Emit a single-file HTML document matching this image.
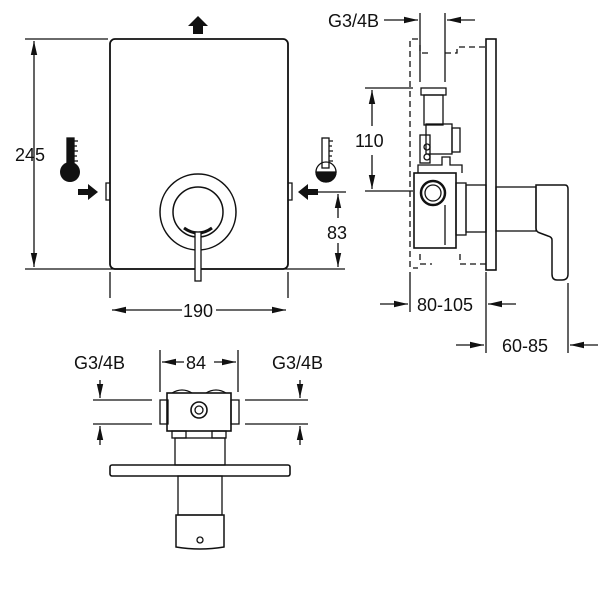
<!DOCTYPE html>
<html><head><style>
html,body{margin:0;padding:0;background:#fff;}
svg{display:block;}
text{font-family:"Liberation Sans",sans-serif;font-size:18px;fill:#111;}
</style></head><body>
<svg width="600" height="600" viewBox="0 0 600 600" xmlns="http://www.w3.org/2000/svg">
<defs>
<marker id="a" viewBox="0 0 10 10" refX="10" refY="5" markerWidth="14" markerHeight="8" orient="auto-start-reverse" markerUnits="userSpaceOnUse" preserveAspectRatio="none"><path d="M0,1 L10,5 L0,9 z" fill="#111"/></marker>
</defs>
<g stroke="#111" stroke-width="1.3" fill="none">
<!-- FRONT VIEW -->
<rect x="110" y="39" width="178" height="230" rx="5" stroke-width="1.8"/>
<line x1="25" y1="39" x2="108" y2="39"/>
<line x1="25" y1="269" x2="345" y2="269"/>
<line x1="34" y1="41" x2="34" y2="267" marker-start="url(#a)" marker-end="url(#a)"/>
<circle cx="198" cy="212" r="38" stroke-width="1.5"/>
<circle cx="198" cy="212" r="25" stroke-width="1.5"/>
<path d="M184,228 Q198,238 212,228" stroke-width="3"/>
<rect x="195" y="232" width="6" height="49" fill="#fff" stroke-width="1.3"/>
<path d="M110,183 h-4 v17 h4 M288,183 h4 v17 h-4"/>
<line x1="110" y1="272" x2="110" y2="298"/><line x1="288" y1="272" x2="288" y2="298"/>
<line x1="112" y1="310" x2="182" y2="310" marker-start="url(#a)"/>
<line x1="216" y1="310" x2="286" y2="310" marker-end="url(#a)"/>
<line x1="318" y1="192" x2="346" y2="192"/>
<line x1="338" y1="194" x2="338" y2="218" marker-start="url(#a)"/>
<line x1="338" y1="243" x2="338" y2="267" marker-end="url(#a)"/>
<!-- thermometers -->
<rect x="67" y="138" width="7" height="30" fill="#111"/>
<path d="M74,141 h4 M74,146 h3 M74,151 h4 M74,156 h3 M74,161 h4"/>
<circle cx="70" cy="172" r="10" fill="#111" stroke="none"/>
<rect x="322" y="138" width="7" height="30" fill="#fff"/>
<path d="M329,141 h4 M329,146 h3 M329,151 h4 M329,156 h3 M329,161 h4"/>
<path d="M316,172 a10,10 0 0 0 20,0 z" fill="#111"/>
<circle cx="326" cy="172" r="10"/>
<!-- SIDE VIEW -->
<rect x="486" y="39" width="10" height="231" stroke-width="1.6"/>
<path d="M418,39 h-8 v229 h8" stroke-dasharray="6,4"/>
<path d="M420,45 v8 h12 M445,53 h12 v-6 h30" stroke-dasharray="6,4"/>
<path d="M420,254 v10 h12 M460,254 v10 h26" stroke-dasharray="6,4"/>
<line x1="420" y1="13" x2="420" y2="82"/><line x1="445" y1="13" x2="445" y2="82"/>
<line x1="384" y1="20" x2="418" y2="20" marker-end="url(#a)"/>
<line x1="475" y1="20" x2="447" y2="20" marker-end="url(#a)"/>
<line x1="365" y1="88" x2="413" y2="88"/>
<line x1="365" y1="191" x2="413" y2="191"/>
<line x1="372" y1="90" x2="372" y2="126" marker-start="url(#a)"/>
<line x1="372" y1="155" x2="372" y2="189" marker-end="url(#a)"/>
<rect x="421" y="88" width="25" height="7"/>
<rect x="424" y="95" width="19" height="30"/>
<rect x="426" y="124" width="26" height="30"/>
<rect x="452" y="128" width="8" height="24"/>
<rect x="420" y="135" width="10" height="28"/>
<circle cx="427" cy="147" r="3"/><circle cx="427" cy="157" r="3"/>
<path d="M418,173 v-8 h24 v-8 h8 v8 h12 v8"/>
<rect x="414" y="173" width="42" height="75" stroke-width="1.6"/>
<rect x="456" y="183" width="10" height="52"/>
<circle cx="433" cy="193" r="12" stroke-width="2.5"/>
<circle cx="433" cy="193" r="8"/>
<line x1="445" y1="205" x2="445" y2="245"/>
<rect x="466" y="185" width="20" height="47"/>
<rect x="496" y="187" width="40" height="44"/>
<path d="M536,185 h29 q3,0 3,4 v85 q0,6 -6,6 h-5 q-5,0 -5,-6 v-34 q0,-3 -4,-4 l-8,-3 q-4,-1 -4,-5 z" stroke-width="1.5"/>
<line x1="410" y1="272" x2="410" y2="312"/>
<line x1="486" y1="272" x2="486" y2="353"/>
<line x1="568" y1="283" x2="568" y2="353"/>
<line x1="380" y1="304" x2="408" y2="304" marker-end="url(#a)"/>
<line x1="516" y1="304" x2="488" y2="304" marker-end="url(#a)"/>
<line x1="456" y1="345" x2="484" y2="345" marker-end="url(#a)"/>
<line x1="598" y1="345" x2="570" y2="345" marker-end="url(#a)"/>
<!-- BOTTOM VIEW -->
<line x1="160" y1="350" x2="160" y2="392"/><line x1="238" y1="350" x2="238" y2="392"/>
<line x1="162" y1="362" x2="184" y2="362" marker-start="url(#a)"/>
<line x1="214" y1="362" x2="236" y2="362" marker-end="url(#a)"/>
<line x1="93" y1="400" x2="152" y2="400"/><line x1="245" y1="400" x2="308" y2="400"/>
<line x1="93" y1="424" x2="152" y2="424"/><line x1="245" y1="424" x2="308" y2="424"/>
<line x1="100" y1="380" x2="100" y2="398" marker-end="url(#a)"/>
<line x1="100" y1="445" x2="100" y2="426" marker-end="url(#a)"/>
<line x1="300" y1="380" x2="300" y2="398" marker-end="url(#a)"/>
<line x1="300" y1="445" x2="300" y2="426" marker-end="url(#a)"/>
<rect x="167" y="393" width="64" height="38" stroke-width="1.6"/>
<rect x="160" y="400" width="8" height="24"/><rect x="231" y="400" width="8" height="24"/>
<path d="M172,393 q10,-6 20,0 M206,393 q10,-6 20,0"/>
<circle cx="199" cy="410" r="8" stroke-width="1.6"/><circle cx="199" cy="410" r="4"/>
<rect x="172" y="431" width="14" height="7"/><rect x="212" y="431" width="14" height="7"/>
<rect x="175" y="438" width="50" height="27"/>
<rect x="110" y="465" width="180" height="11" rx="2" stroke-width="1.6"/>
<rect x="178" y="476" width="44" height="39"/>
<path d="M176,515 h48 v32 q-24,4 -48,0 z" stroke-width="1.5"/>
<circle cx="200" cy="540" r="3"/>
</g>
<!-- flow arrows -->
<g fill="#111">
<path d="M193,34 v-8 h-5 l10,-10 l10,10 h-5 v8 z"/>
<path d="M78,189 h10 v-5 l10,8 l-10,8 v-5 h-10 z"/>
<path d="M318,189 h-10 v-5 l-10,8 l10,8 v-5 h10 z"/>
</g>
<text x="15" y="161">245</text>
<text x="183" y="317">190</text>
<text x="327" y="239">83</text>
<text x="328" y="27">G3/4B</text>
<text x="355" y="147">110</text>
<text x="417" y="311">80-105</text>
<text x="502" y="352">60-85</text>
<text x="186" y="369">84</text>
<text x="74" y="369">G3/4B</text>
<text x="272" y="369">G3/4B</text>
</svg>
</body></html>
